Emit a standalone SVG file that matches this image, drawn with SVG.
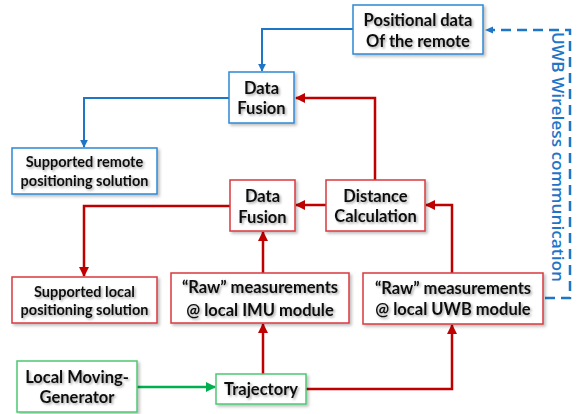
<svg xmlns="http://www.w3.org/2000/svg" width="578" height="414" viewBox="0 0 578 414">
<defs>
  <filter id="bs" x="-10%" y="-10%" width="130%" height="140%">
    <feDropShadow dx="2" dy="2" stdDeviation="1.5" flood-color="#000" flood-opacity="0.25"/>
  </filter>
  <filter id="ts" x="-10%" y="-20%" width="130%" height="160%">
    <feDropShadow dx="1.5" dy="1.5" stdDeviation="1.2" flood-color="#000" flood-opacity="0.35"/>
  </filter>
  <marker id="ab" viewBox="0 0 10 10" refX="9" refY="5" markerWidth="4" markerHeight="4" orient="auto" markerUnits="strokeWidth">
    <path d="M0,0 L10,5 L0,10 z" fill="#1f76c7"/>
  </marker>
  <marker id="ar" viewBox="0 0 10 10" refX="9" refY="5" markerWidth="4" markerHeight="4" orient="auto" markerUnits="strokeWidth">
    <path d="M0,0 L10,5 L0,10 z" fill="#c00000"/>
  </marker>
  <marker id="ag" viewBox="0 0 10 10" refX="9" refY="5" markerWidth="4" markerHeight="4" orient="auto" markerUnits="strokeWidth">
    <path d="M0,0 L10,5 L0,10 z" fill="#00b050"/>
  </marker>
</defs>
<style>
  rect { fill: #fff; stroke-width: 1.5; filter: url(#bs); }
  .b rect { stroke: #2e88d4; }
  .r rect { stroke: #d9383e; }
  .g rect { stroke: #4cc873; }
  text { font-family: Lato, "Open Sans", "Liberation Sans", sans-serif; font-weight: bold; font-size: 16.5px; fill: #111; text-anchor: middle; filter: url(#ts); }
  .s { font-size: 14.5px; }
  .cb { fill: none; stroke: #1f76c7; stroke-width: 2; }
  .cr { fill: none; stroke: #c00000; stroke-width: 2.5; }
  .cg { fill: none; stroke: #00b050; stroke-width: 2.5; }
  .dash { fill: none; stroke: #1f76c7; stroke-width: 2.5; stroke-dasharray: 10 6; }
  .lbl { fill: #1f76c7; font-family: "Open Sans", "Liberation Sans", sans-serif; font-weight: 600; font-size: 16px; filter: none; }
</style>

<g id="connectors">
  <path class="cb" d="M353,29 H262 V71" marker-end="url(#ab)"/>
  <path class="cb" d="M229,98 H84 V147" marker-end="url(#ab)"/>
  <path class="cr" d="M375,180 V98 H296" marker-end="url(#ar)"/>
  <path class="cr" d="M326,205 H296" marker-end="url(#ar)"/>
  <path class="cr" d="M230,206 H84 V276" marker-end="url(#ar)"/>
  <path class="cr" d="M263,273 V232" marker-end="url(#ar)"/>
  <path class="cr" d="M452,273 V205 H426" marker-end="url(#ar)"/>
  <path class="cr" d="M263,374 V324" marker-end="url(#ar)"/>
  <path class="cr" d="M306,389 H452 V325" marker-end="url(#ar)"/>
  <path class="cg" d="M137,387 H215" marker-end="url(#ag)"/>
  <path class="dash" d="M545,298 H570 V30 H492"/>
  <path d="M485,30 L493,26.5 L493,33.5 z" fill="#1f76c7"/>
  <text class="lbl" transform="translate(552,157) rotate(90)" textLength="250" lengthAdjust="spacingAndGlyphs">UWB Wireless communication</text>
</g>

<g id="positional-data" class="b">
  <rect x="353" y="5" width="130" height="49"/>
  <text x="418" y="26">Positional data</text>
  <text x="418" y="47">Of the remote</text>
</g>
<g id="data-fusion-remote" class="b">
  <rect x="229" y="72" width="65" height="51"/>
  <text x="261.5" y="94">Data</text>
  <text x="261.5" y="114">Fusion</text>
</g>
<g id="supported-remote" class="b">
  <rect x="12" y="148" width="145" height="46"/>
  <text class="s" x="84.5" y="167">Supported remote</text>
  <text class="s" x="84.5" y="186">positioning solution</text>
</g>
<g id="data-fusion-local" class="r">
  <rect x="230" y="180" width="65" height="51"/>
  <text x="262.5" y="202">Data</text>
  <text x="262.5" y="223">Fusion</text>
</g>
<g id="distance-calculation" class="r">
  <rect x="326" y="180" width="99" height="51"/>
  <text x="375.5" y="202">Distance</text>
  <text x="375.5" y="222">Calculation</text>
</g>
<g id="supported-local" class="r">
  <rect x="12" y="277" width="145" height="46"/>
  <text class="s" x="84.5" y="297">Supported local</text>
  <text class="s" x="84.5" y="315">positioning solution</text>
</g>
<g id="raw-imu" class="r">
  <rect x="171" y="273" width="178" height="50"/>
  <text x="260" y="293">“Raw” measurements</text>
  <text x="260" y="316">@ local IMU module</text>
</g>
<g id="raw-uwb" class="r">
  <rect x="363" y="273" width="180" height="51"/>
  <text x="453" y="294">“Raw” measurements</text>
  <text x="453" y="315">@ local UWB module</text>
</g>
<g id="local-moving-generator" class="g">
  <rect x="17" y="361" width="120" height="51"/>
  <text x="77" y="383">Local Moving-</text>
  <text x="77" y="403">Generator</text>
</g>
<g id="trajectory" class="g">
  <rect x="216" y="374" width="90" height="30"/>
  <text x="261" y="395">Trajectory</text>
</g>
</svg>
